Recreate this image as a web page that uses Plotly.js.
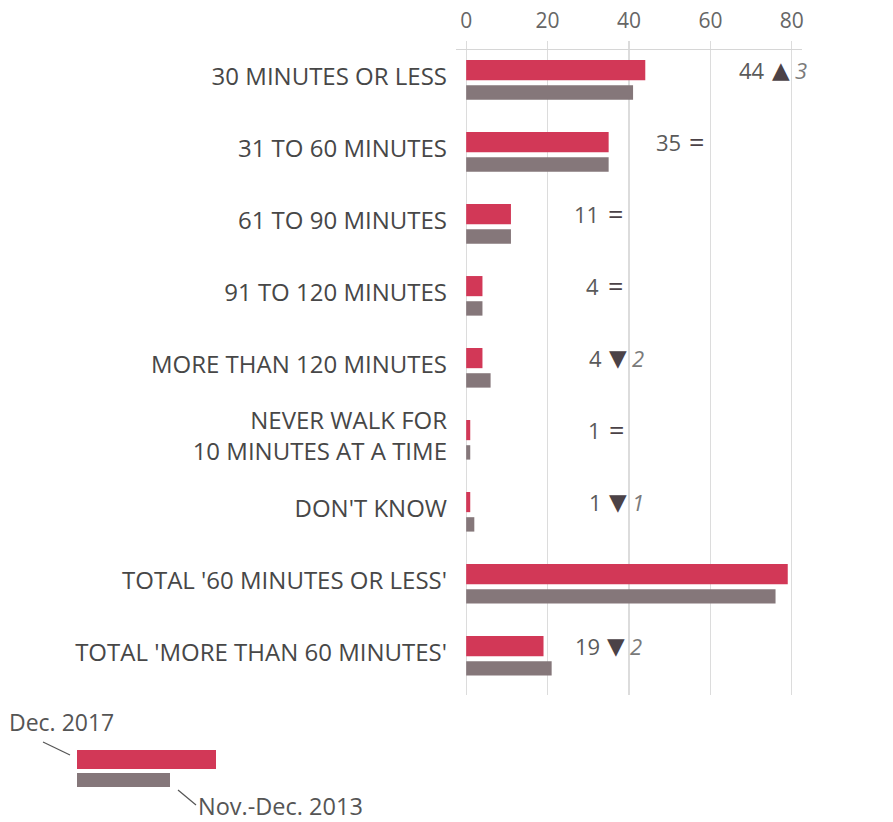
<!DOCTYPE html>
<html>
<head>
<meta charset="utf-8">
<script src="https://cdn.plot.ly/plotly-3.0.1.min.js"></script>
<style>body{margin:0;background:#fff;} #chart{width:893px;height:822px;}</style>
</head>
<body>
<div id="chart"></div>
<script>
// ---- data ----
const categories = [
  "30 MINUTES OR LESS",
  "31 TO 60 MINUTES",
  "61 TO 90 MINUTES",
  "91 TO 120 MINUTES",
  "MORE THAN 120 MINUTES",
  "NEVER WALK FOR<br>10 MINUTES AT A TIME",
  "DON'T KNOW",
  "TOTAL '60 MINUTES OR LESS'",
  "TOTAL 'MORE THAN 60 MINUTES'"
];
const dec2017 = [44, 35, 11, 4, 4, 1, 1, 79, 19];
const novDec2013 = [41, 35, 11, 4, 6, 1, 2, 76, 21];
const changeDir = ["up", "eq", "eq", "eq", "down", "eq", "down", "up", "down"];
const changeVal = [3, null, null, null, 2, null, 1, 3, 2];
const xTicks = [0, 20, 40, 60, 80];
const seriesNames = ["Dec. 2017", "Nov.-Dec. 2013"];

// ---- layout helpers (positions only) ----
const W = 893, H = 822;
const M = {l: 456, r: 91, t: 50, b: 127};
const PW = W - M.l - M.r, PH = H - M.t - M.b;
const px = x => (x - M.l) / PW;
const py = y => 1 - (y - M.t) / PH;
const symbolX = [77.3, 56.7, 36.6, 36.6, 37.3, 37.0, 37.3, 97.2, 36.8];

const RED = "#d23857";
const GREY = "#85777a";
const FONT = "Open Sans, Noto Sans, sans-serif";

const traces = [
  {
    type: "bar", orientation: "h", name: seriesNames[0],
    y: categories, x: dec2017,
    marker: {color: RED}, width: 0.28, offset: -0.28,
    hoverinfo: "x+name"
  },
  {
    type: "bar", orientation: "h", name: seriesNames[1],
    y: categories, x: novDec2013,
    marker: {color: GREY}, width: 0.2, offset: 0.07,
    hoverinfo: "x+name"
  }
];

const annotations = [];
categories.forEach((c, i) => {
  const sym = changeDir[i] === "up" ? "▲" : (changeDir[i] === "down" ? "▼" : "=");
  annotations.push({
    x: symbolX[i], y: c, xref: "x", yref: "y", yshift: 10,
    text: String(dec2017[i]), showarrow: false, xanchor: "right", xshift: -14,
    font: {family: FONT, size: 22, color: "#5a5a5a"}
  });
  annotations.push({
    x: symbolX[i], y: c, xref: "x", yref: "y", yshift: sym === "=" ? 11 : 10,
    text: sym, showarrow: false, xanchor: "center",
    font: {family: sym === "=" ? FONT : "DejaVu Sans, sans-serif", size: sym === "=" ? 27 : 23, color: "#4b4247"}
  });
  if (changeVal[i] !== null) {
    annotations.push({
      x: symbolX[i], y: c, xref: "x", yref: "y", yshift: 10,
      text: "<i>" + changeVal[i] + "</i>", showarrow: false, xanchor: "left", xshift: 12,
      font: {family: FONT, size: 22, color: "#7a7a7a"}
    });
  }
});

// legend key texts
annotations.push({
  xref: "paper", yref: "paper", x: px(7), y: py(722), xanchor: "left", yanchor: "middle",
  text: seriesNames[0], showarrow: false, font: {family: FONT, size: 23, color: "#555"}
});
annotations.push({
  xref: "paper", yref: "paper", x: px(196), y: py(806), xanchor: "left", yanchor: "middle",
  text: seriesNames[1], showarrow: false, font: {family: FONT, size: 23.5, color: "#555"}
});

const shapes = [
  {type: "rect", xref: "paper", yref: "paper", x0: px(77), x1: px(216), y0: py(750), y1: py(769),
   fillcolor: RED, line: {width: 0}},
  {type: "rect", xref: "paper", yref: "paper", x0: px(77), x1: px(170), y0: py(773), y1: py(787),
   fillcolor: GREY, line: {width: 0}},
  {type: "line", xref: "paper", yref: "paper", x0: px(43), x1: px(70), y0: py(742), y1: py(755),
   line: {color: "#555", width: 1.2}},
  {type: "line", xref: "paper", yref: "paper", x0: px(178), x1: px(196), y0: py(790), y1: py(805),
   line: {color: "#555", width: 1.2}}
];

const layout = {
  width: W, height: H,
  margin: M,
  paper_bgcolor: "#fff", plot_bgcolor: "#fff",
  showlegend: false,
  barmode: "overlay",
  font: {family: FONT, color: "#444"},
  xaxis: {
    side: "top", range: [-2.5, 82.5],
    tickvals: xTicks, ticktext: xTicks.map(String),
    showgrid: true, gridcolor: "#dcdcdc", gridwidth: 1.3,
    showline: true, linecolor: "#d6d6d6", linewidth: 1.5,
    ticks: "outside", ticklen: 8, tickcolor: "#dcdcdc", tickwidth: 1.3,
    ticklabelstandoff: 4,
    zeroline: false,
    tickfont: {family: FONT, size: 21, color: "#666"},
    fixedrange: true
  },
  yaxis: {
    type: "category", range: [8.54, -0.42],
    showgrid: false, zeroline: false, showline: false, ticks: "",
    ticklabelstandoff: 8, ticklabelshift: 4,
    tickfont: {family: FONT, size: 24, color: "#474747"},
    fixedrange: true
  },
  annotations: annotations,
  shapes: shapes
};

Plotly.newPlot("chart", traces, layout, {displayModeBar: false, staticPlot: true});
</script>
</body>
</html>
